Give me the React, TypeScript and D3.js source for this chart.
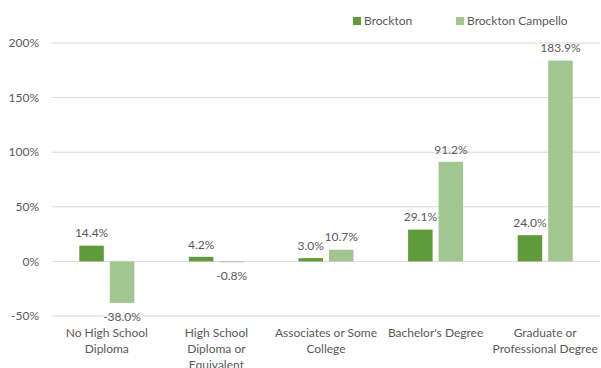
import React from "react";
import * as d3 from "d3";

const categories = [
  ["No High School", "Diploma"],
  ["High School", "Diploma or", "Equivalent"],
  ["Associates or Some", "College"],
  ["Bachelor's Degree"],
  ["Graduate or", "Professional Degree"],
];
const seriesNames = ["Brockton", "Brockton Campello"];
const brockton = [14.4, 4.2, 3.0, 29.1, 24.0];
const campello = [-38.0, -0.8, 10.7, 91.2, 183.9];
const yTicks = [-50, 0, 50, 100, 150, 200];
const colors = ["#5f9a3b", "#a2c690"];

export default function App() {
  const W = 601, H = 368;
  const left = 52, right = 600;
  const y = d3.scaleLinear().domain([-50, 200]).range([316, 43]);
  const x0 = d3.scaleBand<number>().domain(d3.range(categories.length)).range([left, right]);
  const barW = 24.5, gap = 6;
  const series = [brockton, campello];
  const font = "Lato, 'Open Sans', sans-serif";
  const txt = "#595959";
  const fs = 12;
  return (
    <svg width={W} height={H} style={{ position: "absolute", left: 0, top: 0 }} fontFamily={font}>
      <rect width={W} height={H} fill="#fff" />
      {yTicks.map((t) => (
        <g key={t}>
          <line x1={left} x2={right} y1={y(t)} y2={y(t)} stroke="#d9d9d9" strokeWidth={1} />
          <text x={39} y={y(t)} dy="0.35em" textAnchor="end" fontSize={fs} fill={txt}>
            {t}%
          </text>
        </g>
      ))}
      {series.map((vals, si) =>
        vals.map((v, i) => {
          const cx = x0(i)! + x0.bandwidth() / 2;
          const bx = si === 0 ? cx - gap / 2 - barW : cx + gap / 2;
          const top = Math.min(y(v), y(0));
          const h = Math.abs(y(v) - y(0));
          const ly = v >= 0 ? y(v) - 12.5 : y(v) + 14;
          return (
            <g key={`${si}-${i}`}>
              <rect x={bx} y={top} width={barW} height={h} fill={colors[si]} />
              <text x={bx + barW / 2} y={ly} dy="0.35em" textAnchor="middle" fontSize={fs} fill={txt}>
                {v.toFixed(1)}%
              </text>
            </g>
          );
        })
      )}
      {categories.map((lines, i) => {
        const cx = x0(i)! + x0.bandwidth() / 2;
        return (
          <text key={i} x={cx} textAnchor="middle" fontSize={fs} fill={txt}>
            {lines.map((l, j) => (
              <tspan key={j} x={cx} y={333 + j * 16} dy="0.35em">
                {l}
              </tspan>
            ))}
          </text>
        );
      })}
      {seriesNames.map((n, i) => {
        const lx = i === 0 ? 353 : 456;
        return (
          <g key={n}>
            <rect x={lx} y={17} width={8} height={8} fill={colors[i]} />
            <text x={lx + 11} y={21} dy="0.35em" fontSize={fs} fill={txt}>
              {n}
            </text>
          </g>
        );
      })}
    </svg>
  );
}
